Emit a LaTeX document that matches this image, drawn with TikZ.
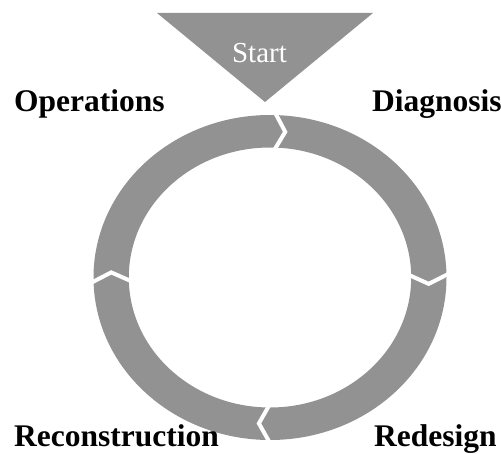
\documentclass[tikz,border=0pt]{standalone}
\usepackage{fontspec}
\setmainfont{Liberation Serif}
\definecolor{ringgray}{RGB}{146,146,146}
\tikzset{
  lbl/.style={anchor=base west, inner sep=0pt, font=\fontsize{31.5}{36}\selectfont\bfseries, text=black},
  cutline/.style={white, line width=4pt, line join=miter, line cap=butt}
}
\begin{document}
\begin{tikzpicture}[x=1pt,y=1pt]
\useasboundingbox (0,0) rectangle (501,453);
% ring
\fill[ringgray, even odd rule] (270,175.5) ellipse [x radius=176.5, y radius=162.5]
  (270,175.5) ellipse [x radius=141.2, y radius=130];
% chevron gaps (clockwise arrows)
\foreach \b in {88.5,1.5,-90,182}{
  \draw[cutline]
    ({270+176.5*0.77*cos(\b+0.3)},{175.5+162.5*0.77*sin(\b+0.3)}) --
    ({270+176.5*0.9*cos(\b-4)},{175.5+162.5*0.9*sin(\b-4)}) --
    ({270+176.5*1.03*cos(\b+0.3)},{175.5+162.5*1.03*sin(\b+0.3)});
}
% start triangle
\fill[ringgray] (157,440) -- (373,440) -- (265,351) -- cycle;
\node[anchor=base, inner sep=0pt, text=white, font=\fontsize{29}{34}\selectfont] (start) at (259.5,390) {Start};
% labels
\node[lbl] (ops) at (14,341.5) {Operations};
\node[lbl] (diag) at (372,341.5) {Diagnosis};
\node[lbl] (recon) at (14,7) {Reconstruction};
\node[lbl] (redes) at (374,7) {Redesign};
\end{tikzpicture}
\end{document}
